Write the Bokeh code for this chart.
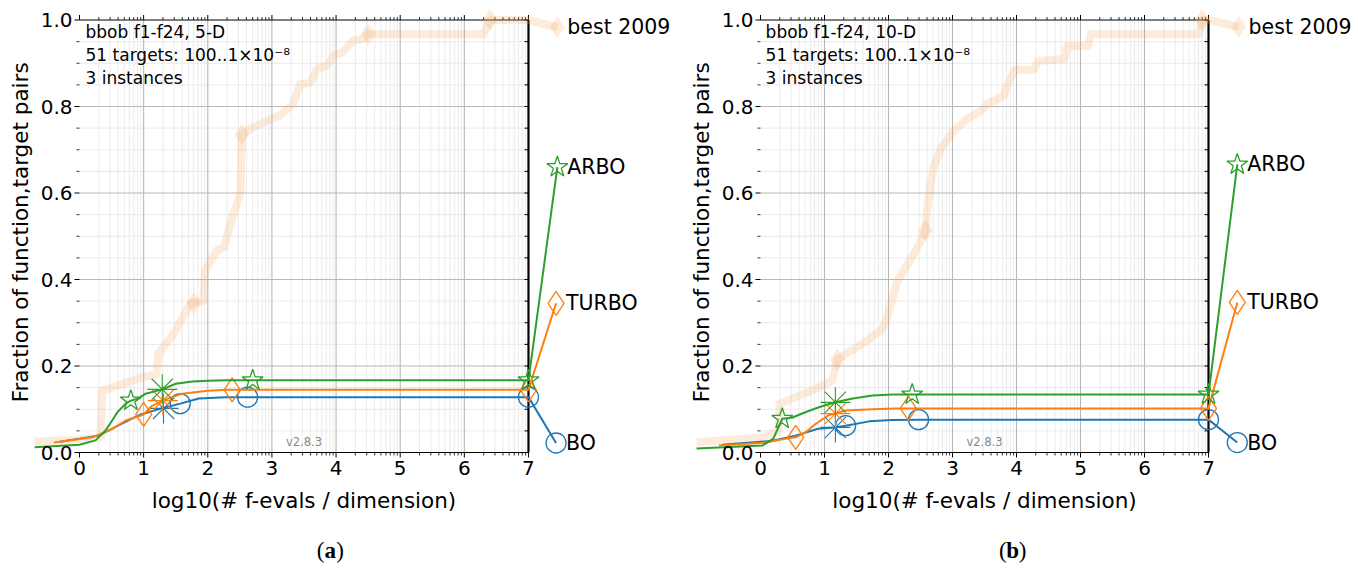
import math
from bokeh.plotting import figure
from bokeh.models import Label, Range1d
from bokeh.layouts import row
from bokeh.embed import file_html
from bokeh.resources import INLINE

# ---------------- data ----------------
# 5-D panel
best_5d_x = [-0.7, 0.0, 0.33, 0.35, 0.5, 0.98, 1.2, 1.23, 1.47, 1.73, 1.93, 1.96, 2.14, 2.25, 2.4, 2.51,
             2.53, 2.66, 3.13, 3.33, 3.44, 3.6, 3.7, 3.86, 3.96, 4.1, 4.27, 4.4, 4.5, 6.3, 6.4, 7.0, 7.45]
best_5d_y = [0.025, 0.03, 0.035, 0.143, 0.15, 0.174, 0.18, 0.229, 0.275, 0.344, 0.351, 0.42, 0.467, 0.474,
             0.553, 0.6, 0.735, 0.748, 0.78, 0.806, 0.852, 0.855, 0.887, 0.895, 0.918, 0.925, 0.953, 0.955,
             0.967, 0.967, 1.0, 1.0, 0.983]
best_5d_mx = [1.78, 2.53, 4.5, 6.4, 7.45]
best_5d_my = [0.345, 0.735, 0.967, 1.0, 0.983]

arbo_5d_x = [-0.7, 0.0, 0.25, 0.4, 0.51, 0.59, 0.72, 0.8, 0.92, 1.03, 1.29, 1.5, 1.76, 2.0, 2.3, 7.0, 7.45]
arbo_5d_y = [0.012, 0.018, 0.028, 0.05, 0.074, 0.093, 0.113, 0.12, 0.125, 0.136, 0.146, 0.159, 0.164, 0.166,
             0.167, 0.167, 0.66]
arbo_5d_mx = [0.8, 2.7, 7.0, 7.45]
arbo_5d_my = [0.12, 0.167, 0.167, 0.66]
arbo_5d_ax, arbo_5d_ay = 1.29, 0.146

turbo_5d_x = [-0.4, 0.2, 0.52, 0.72, 1.0, 1.13, 1.3, 1.6, 2.0, 2.3, 7.0, 7.43]
turbo_5d_y = [0.023, 0.035, 0.055, 0.074, 0.088, 0.108, 0.12, 0.136, 0.143, 0.145, 0.145, 0.345]
turbo_5d_mx = [1.0, 2.38, 7.0, 7.43]
turbo_5d_my = [0.088, 0.145, 0.145, 0.345]
turbo_5d_ax, turbo_5d_ay = 1.3, 0.12

bo_5d_x = [-0.3, 0.3, 0.6, 0.92, 1.23, 1.57, 1.86, 2.27, 7.0, 7.43]
bo_5d_y = [0.025, 0.039, 0.062, 0.086, 0.1, 0.113, 0.125, 0.128, 0.128, 0.022]
bo_5d_mx = [1.57, 2.62, 7.0, 7.43]
bo_5d_my = [0.113, 0.128, 0.128, 0.022]
bo_5d_ax, bo_5d_ay = 1.31, 0.102

# 10-D panel
best_10d_x = [-1.0, 0.03, 0.28, 0.3, 0.8, 1.12, 1.2, 1.36, 1.53, 1.67, 1.9, 1.98, 2.14, 2.3, 2.45, 2.58,
              2.6, 2.7, 2.83, 3.03, 3.23, 3.44, 3.55, 3.8, 3.86, 3.98, 4.27, 4.34, 4.75, 4.8, 5.12, 5.16,
              6.85, 6.9, 7.0, 7.47]
best_10d_y = [0.023, 0.035, 0.05, 0.113, 0.143, 0.166, 0.215, 0.231, 0.245, 0.259, 0.285, 0.312, 0.397,
              0.436, 0.474, 0.513, 0.56, 0.66, 0.706, 0.745, 0.772, 0.79, 0.806, 0.825, 0.852, 0.885,
              0.885, 0.905, 0.91, 0.94, 0.94, 0.967, 0.967, 1.0, 1.0, 0.984]
best_10d_mx = [1.2, 2.58, 6.9, 7.47]
best_10d_my = [0.215, 0.513, 1.0, 0.984]

arbo_10d_x = [-1.0, 0.03, 0.2, 0.28, 0.34, 0.5, 0.7, 0.9, 1.17, 1.44, 1.75, 2.06, 2.4, 7.0, 7.45]
arbo_10d_y = [0.009, 0.016, 0.032, 0.058, 0.078, 0.081, 0.093, 0.104, 0.116, 0.125, 0.132, 0.134, 0.134,
              0.134, 0.666]
arbo_10d_mx = [0.34, 2.37, 7.0, 7.45]
arbo_10d_my = [0.078, 0.134, 0.134, 0.666]
arbo_10d_ax, arbo_10d_ay = 1.17, 0.116

turbo_10d_x = [-0.65, 0.08, 0.39, 0.55, 0.7, 0.86, 1.06, 1.33, 1.75, 2.1, 7.0, 7.45]
turbo_10d_y = [0.016, 0.023, 0.032, 0.035, 0.046, 0.066, 0.086, 0.097, 0.1, 0.102, 0.102, 0.347]
turbo_10d_mx = [0.55, 2.31, 7.0, 7.45]
turbo_10d_my = [0.035, 0.102, 0.102, 0.347]
turbo_10d_ax, turbo_10d_ay = 1.17, 0.09

bo_10d_x = [-0.6, 0.19, 0.55, 0.9, 1.17, 1.33, 1.7, 2.06, 2.5, 7.0, 7.45]
bo_10d_y = [0.018, 0.027, 0.039, 0.055, 0.058, 0.062, 0.072, 0.075, 0.076, 0.076, 0.023]
bo_10d_mx = [1.33, 2.47, 7.0, 7.45]
bo_10d_my = [0.062, 0.076, 0.076, 0.023]
bo_10d_ax, bo_10d_ay = 1.17, 0.058

x_tick_values = [0, 1, 2, 3, 4, 5, 6, 7]
x_tick_labels = ["0", "1", "2", "3", "4", "5", "6", "7"]
y_tick_values = [0.0, 0.2, 0.4, 0.6, 0.8, 1.0]
y_tick_labels = ["0.0", "0.2", "0.4", "0.6", "0.8", "1.0"]
algo_names = ["BO", "TURBO", "ARBO"]
algo_colors = ["#1f77b4", "#ff7f0e", "#2ca02c"]
algo_markers = ["circle", "diamond", "star"]
info_lines_5d = ["bbob f1-f24, 5-D", "51 targets: 100..1\u00d710\u207b\u2078", "3 instances"]
info_lines_10d = ["bbob f1-f24, 10-D", "51 targets: 100..1\u00d710\u207b\u2078", "3 instances"]
version_text = "v2.8.3"
x_label = "log10(# f-evals / dimension)"
y_label = "Fraction of function,target pairs"

FONT = "DejaVu Sans"
BEST_COLOR = "#f4a460"
XMIN, XMAX = 0, 7
PXY = 432.5      # pixels per unit fraction
Y0_PX = 452      # page row of y = 0
H = 570


def panel(width, page_left, x0_px, pxu, algos, best, info, info_x, caption_letter, caption_x):
    xstart = (page_left - x0_px) / pxu
    xend = xstart + width / pxu
    ystart = (Y0_PX - H) / PXY
    yend = Y0_PX / PXY
    p = figure(width=width, height=H, x_range=Range1d(xstart, xend), y_range=Range1d(ystart, yend),
               x_axis_location=None, y_axis_location=None, toolbar_location=None,
               output_backend="svg", min_border_left=0, min_border_right=0,
               min_border_top=0, min_border_bottom=0)
    p.outline_line_color = None
    p.xgrid.visible = False
    p.ygrid.visible = False
    p.background_fill_color = "white"
    p.border_fill_color = "white"
    dx = 1.0 / pxu
    dy = 1.0 / PXY

    minor_x = [d + math.log10(k) for d in range(XMIN, XMAX) for k in range(2, 10)]
    major_y = [v for v in y_tick_values if 0 < v < 1]
    all_y = [i * 0.05 for i in range(0, 21)]
    minor_y = [v for v in all_y if abs(round(v / 0.2) * 0.2 - v) > 1e-6]
    nmx, nmy = len(minor_x), len(minor_y)

    # minor grid
    p.segment(x0=minor_x, y0=[0] * nmx, x1=minor_x, y1=[1] * nmx, line_color="#e6e6e6", line_width=0.8)
    p.segment(x0=[XMIN] * nmy, y0=minor_y, x1=[XMAX] * nmy, y1=minor_y, line_color="#e6e6e6", line_width=0.8)
    # major grid
    gx = [v for v in x_tick_values if XMIN < v < XMAX]
    p.segment(x0=gx, y0=[0] * len(gx), x1=gx, y1=[1] * len(gx), line_color="#b8b8b8", line_width=1.1)
    p.segment(x0=[XMIN] * len(major_y), y0=major_y, x1=[XMAX] * len(major_y), y1=major_y,
              line_color="#b8b8b8", line_width=1.1)

    # spines
    p.segment(x0=[XMIN, XMIN], y0=[1, 0], x1=[XMAX, XMAX], y1=[1, 0], line_color="black", line_width=1.2)
    p.segment(x0=[XMAX], y0=[0], x1=[XMAX], y1=[1], line_color="black", line_width=2.2)
    nx = len(x_tick_values)
    # top ticks (outward)
    p.segment(x0=x_tick_values, y0=[1] * nx, x1=x_tick_values, y1=[1 + 5 * dy] * nx,
              line_color="black", line_width=1)
    p.segment(x0=minor_x, y0=[1] * nmx, x1=minor_x, y1=[1 + 3 * dy] * nmx, line_color="black", line_width=0.8)
    # bottom ticks (outward)
    p.segment(x0=x_tick_values, y0=[0] * nx, x1=x_tick_values, y1=[-5 * dy] * nx,
              line_color="black", line_width=1)
    p.segment(x0=minor_x, y0=[0] * nmx, x1=minor_x, y1=[-3 * dy] * nmx, line_color="black", line_width=0.8)
    # left ticks (outward at x=0)
    ny = len(y_tick_values)
    p.segment(x0=[XMIN] * ny, y0=y_tick_values, x1=[XMIN - 5 * dx] * ny, y1=y_tick_values,
              line_color="black", line_width=1)
    p.segment(x0=[XMIN] * nmy, y0=minor_y, x1=[XMIN - 3 * dx] * nmy, y1=minor_y, line_color="black", line_width=0.8)
    # right ticks (inward)
    p.segment(x0=[XMAX] * len(all_y), y0=all_y, x1=[XMAX - 4 * dx] * len(all_y), y1=all_y,
              line_color="black", line_width=1)

    # tick labels
    for v, t in zip(x_tick_values, x_tick_labels):
        p.add_layout(Label(x=v, y=0, text=t, y_offset=-8, text_align="center", text_baseline="top",
                           text_font=FONT, text_font_size="20px", text_color="black"))
    for v, t in zip(y_tick_values, y_tick_labels):
        p.add_layout(Label(x=XMIN, y=v, text=t, x_offset=-7, text_align="right", text_baseline="middle",
                           text_font=FONT, text_font_size="20px", text_color="black"))

    # best 2009
    bx, by, bmx, bmy = best
    p.line(bx, by, line_color=BEST_COLOR, line_alpha=0.22, line_width=8, line_join="round")
    p.scatter(bmx, bmy, marker="diamond", size=22, fill_color=BEST_COLOR, fill_alpha=0.22, line_color=None)

    # algorithms
    for (xs, ys, mx, my, axx, axy), name, col, mk in zip(algos, algo_names, algo_colors, algo_markers):
        p.line(xs, ys, line_color=col, line_width=2)
        size = {"circle": 20, "diamond": 24, "star": 22}[mk]
        p.scatter(mx, my, marker=mk, size=size, fill_alpha=0, line_color=col, line_width=1.3)
        p.scatter([axx], [axy], marker="asterisk", size=30, line_color=col, line_width=1.1)
        p.add_layout(Label(x=mx[-1], y=my[-1], text=name, x_offset=10, text_align="left",
                           text_baseline="middle", text_font=FONT, text_font_size="20.5px",
                           text_color="black"))
    p.add_layout(Label(x=bmx[-1], y=bmy[-1], text="best 2009", x_offset=10, text_align="left",
                       text_baseline="middle", text_font=FONT, text_font_size="20.5px", text_color="black"))

    # info text
    for i, t in enumerate(info):
        p.add_layout(Label(x=info_x, y=0.9723 - i * 0.0532, text=t, text_align="left",
                           text_baseline="middle", text_font=FONT, text_font_size="17px",
                           text_color="black"))
    p.add_layout(Label(x=3.5, y=0.025, text=version_text, text_align="center", text_baseline="middle",
                       text_font=FONT, text_font_size="11.5px", text_color="#888888"))

    # axis labels
    p.add_layout(Label(x=3.5, y=-0.111, text=x_label, text_align="center", text_baseline="middle",
                       text_font=FONT, text_font_size="21.5px", text_color="black"))
    p.add_layout(Label(x=XMIN - 59 * dx, y=0.509, text=y_label, angle=math.pi / 2, text_align="center",
                       text_baseline="middle", text_font=FONT, text_font_size="21.5px", text_color="black"))

    # caption
    cy = -0.227
    p.add_layout(Label(x=caption_x, y=cy, text="(", x_offset=-6, text_align="right", text_baseline="middle",
                       text_font="Liberation Serif", text_font_size="23px", text_color="black"))
    p.add_layout(Label(x=caption_x, y=cy, text=caption_letter, text_align="center", text_baseline="middle",
                       text_font="Liberation Serif", text_font_size="23px", text_font_style="bold",
                       text_color="black"))
    p.add_layout(Label(x=caption_x, y=cy, text=")", x_offset=6, text_align="left", text_baseline="middle",
                       text_font="Liberation Serif", text_font_size="23px", text_color="black"))
    return p


algos_5d = [
    (bo_5d_x, bo_5d_y, bo_5d_mx, bo_5d_my, bo_5d_ax, bo_5d_ay),
    (turbo_5d_x, turbo_5d_y, turbo_5d_mx, turbo_5d_my, turbo_5d_ax, turbo_5d_ay),
    (arbo_5d_x, arbo_5d_y, arbo_5d_mx, arbo_5d_my, arbo_5d_ax, arbo_5d_ay),
]
algos_10d = [
    (bo_10d_x, bo_10d_y, bo_10d_mx, bo_10d_my, bo_10d_ax, bo_10d_ay),
    (turbo_10d_x, turbo_10d_y, turbo_10d_mx, turbo_10d_my, turbo_10d_ax, turbo_10d_ay),
    (arbo_10d_x, arbo_10d_y, arbo_10d_mx, arbo_10d_my, arbo_10d_ax, arbo_10d_ay),
]

p1 = panel(689, 0, 79, 64.14, algos_5d, (best_5d_x, best_5d_y, best_5d_mx, best_5d_my),
           info_lines_5d, 0.094, "a", 3.91)
p2 = panel(665, 689, 760, 64.0, algos_10d, (best_10d_x, best_10d_y, best_10d_mx, best_10d_my),
           info_lines_10d, 0.08, "b", 3.94)

layout = row(p1, p2)
open("out.html", "w").write(file_html(layout, INLINE))
